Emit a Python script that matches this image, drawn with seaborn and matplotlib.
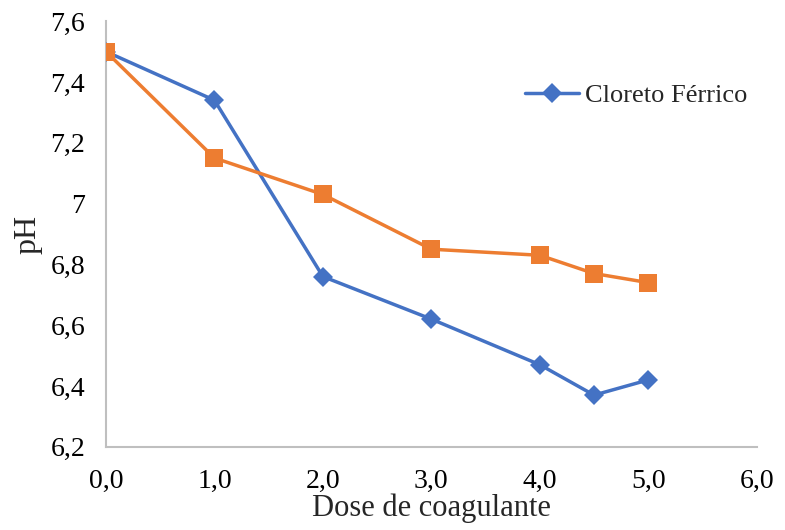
import pandas as pd
import seaborn as sns
import matplotlib.pyplot as plt
from matplotlib.ticker import FuncFormatter

dose = [0.0, 1.0, 2.0, 3.0, 4.0, 4.5, 5.0]
ph_cloreto = [7.50, 7.34, 6.76, 6.62, 6.47, 6.37, 6.42]
ph_outro = [7.50, 7.15, 7.03, 6.85, 6.83, 6.77, 6.74]

df = pd.DataFrame({'dose': dose, 'cloreto': ph_cloreto, 'outro': ph_outro})

sns.set_style("white")
plt.rcParams['font.family'] = ['Liberation Serif', 'DejaVu Serif']

fig = plt.figure(figsize=(7.85, 5.3), dpi=100)
ax = fig.add_axes([0.135, 0.157, 0.829, 0.803])

sns.lineplot(data=df, x='dose', y='cloreto', color='#4472C4', linewidth=2.5,
             marker='D', markersize=10, markeredgewidth=0, ax=ax, zorder=3,
             label='Cloreto Férrico')
sns.lineplot(data=df, x='dose', y='outro', color='#ED7D31', linewidth=2.5,
             marker='s', markersize=13, markeredgewidth=0, ax=ax, zorder=4)

ax.set_xlim(0, 6)
ax.set_ylim(6.2, 7.6)
ax.set_xticks([0, 1, 2, 3, 4, 5, 6])
ax.set_yticks([6.2, 6.4, 6.6, 6.8, 7.0, 7.2, 7.4, 7.6])
ax.xaxis.set_major_formatter(FuncFormatter(lambda v, p: f'{v:.1f}'.replace('.', ',')))
def yfmt(v, p):
    if abs(v - 7) < 1e-9:
        return '7'
    return f'{v:.1f}'.replace('.', ',')
ax.yaxis.set_major_formatter(FuncFormatter(yfmt))
ax.tick_params(axis='both', length=0, labelsize=20, colors='black')
ax.tick_params(axis='x', pad=16)
ax.tick_params(axis='y', pad=15)

for s in ['top', 'right']:
    ax.spines[s].set_visible(False)
for s in ['left', 'bottom']:
    ax.spines[s].set_color('#BFBFBF')
    ax.spines[s].set_linewidth(1.5)

ax.set_xlabel('Dose de coagulante', fontsize=22)
ax.xaxis.set_label_coords(0.5, -0.11)
ax.set_ylabel('pH', fontsize=23)
ax.yaxis.set_label_coords(-0.097, 0.5)

ax.legend(loc='center right', bbox_to_anchor=(0.985, 0.825), frameon=False,
          fontsize=19, handlelength=2.05, handletextpad=0.2,
          borderpad=0, borderaxespad=0)

fig.savefig('out.png', dpi=100)
